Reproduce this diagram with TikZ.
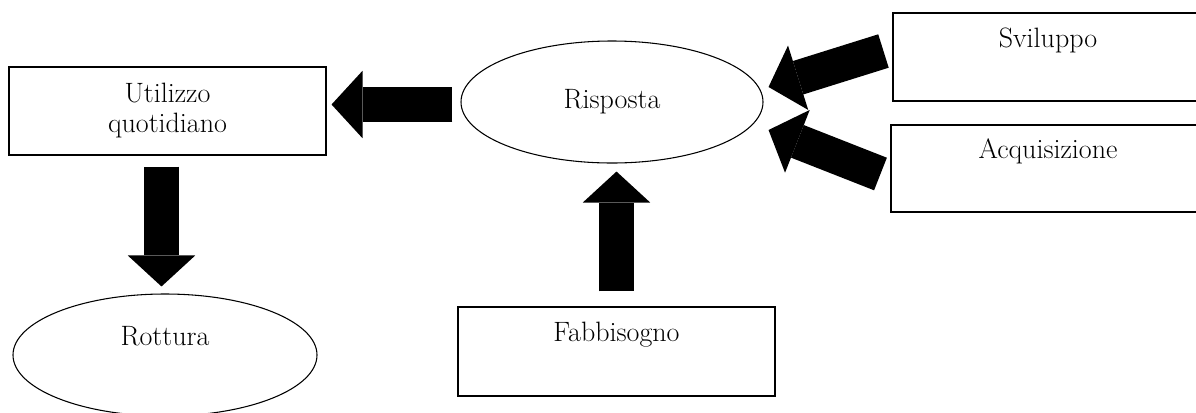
\documentclass[tikz,border=0pt]{standalone}
\usetikzlibrary{arrows.meta,shapes.geometric,calc}
\begin{document}
\begin{tikzpicture}[x=0.75pt,y=-0.75pt,
  every node/.style={font=\fontsize{21}{22.5}\selectfont, inner sep=0pt},
  box/.style={draw, line width=0.8pt, rectangle, align=center},
  oval/.style={draw, line width=0.8pt, ellipse, align=center},
  blk/.style={line width=26.25pt, -{Triangle[width=50.6pt,length=23.25pt,line width=0pt]}}
]
\useasboundingbox (0,0) rectangle (1196,412);
\clip (0,0) rectangle (1196,412);

\node[box, minimum width=237.75pt, minimum height=66pt] (util) at (167.5,111) {Utilizzo\\quotidiano};
\node[oval, minimum width=228pt, minimum height=91.5pt] (rott) at (165,355) {Rottura\\\strut};
\node[oval, minimum width=226.5pt, minimum height=91.5pt] (risp) at (612,102) {Risposta};
\node[box, minimum width=237.75pt, minimum height=66.75pt] (fab) at (616.5,351.5) {Fabbisogno\\\strut};
\node[box, minimum width=232.5pt, minimum height=66pt] (svil) at (1048,57) {Sviluppo\\\strut};
\node[box, minimum width=235.5pt, minimum height=65.25pt] (acq) at (1048,168.5) {Acquisizione\\\strut};

\draw[blk] ($(risp.west)+(-8,2.5)$) -- ($(util.east |- risp.west)+(5,2.5)$);
\draw[blk] ($(util.south)+(-6,11)$) -- ($(rott.north)+(-3.5,-7)$);
\draw[blk] ($(fab.north)+(0,-15)$) -- ($(fab.north |- risp.south)+(0,8)$);
\draw[blk] ($(svil.west)+(-9,-6)$) -- ($(risp.east)+(5,-15)$);
\draw[blk] ($(acq.west)+(-10,5.5)$) -- ($(risp.east)+(5,28)$);
\end{tikzpicture}
\end{document}
